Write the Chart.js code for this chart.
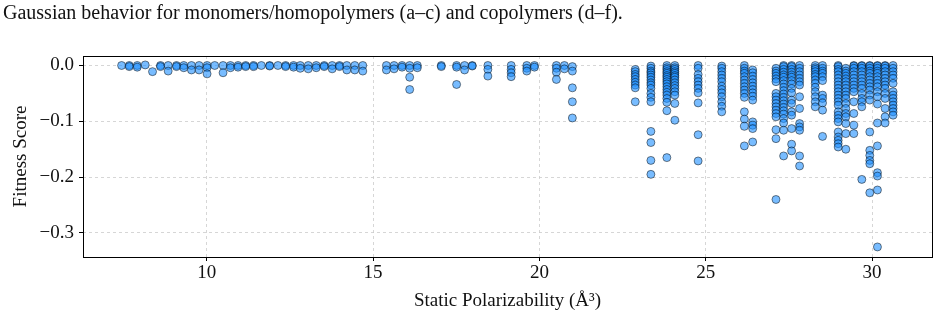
<!DOCTYPE html>
<html>
<head>
<meta charset="utf-8">
<script src="https://cdn.jsdelivr.net/npm/chart.js@4.4.0/dist/chart.umd.min.js"></script>
<style>
  html, body { margin: 0; padding: 0; background: #fff; }
  #wrap { position: relative; width: 940px; height: 318px; }
  #caption {
    position: absolute; left: 3px; top: 1px;
    font-family: "Liberation Serif", serif; font-size: 20px; color: #111;
    white-space: nowrap;
  }
  canvas { position: absolute; left: 0; top: 0; }
</style>
</head>
<body>
<div id="wrap">
  <canvas id="fitChart" width="940" height="318"></canvas>
  <div id="caption">Gaussian behavior for monomers/homopolymers (a–c) and copolymers (d–f).</div>
</div>
<script>
// ── Data: one entry per polarizability column, y values listed per column ──
const monoX = [7.44, 7.67, 7.91, 8.15, 8.37, 8.61, 8.84, 9.09, 9.31, 9.54, 9.77, 10.01, 10.24, 10.49, 10.71, 10.94,
  11.17, 11.41, 11.64, 11.89, 12.14, 12.37, 12.61, 12.81, 13.05, 13.29, 13.53, 13.77, 13.99, 14.21, 14.45, 14.69];
const monoY = [[0], [0, -0.002], [0, -0.003], [0.001], [-0.011], [0, -0.002], [0, -0.010], [0, -0.002], [0, -0.004],
  [0, -0.008], [0, -0.008], [0, -0.004, -0.015], [0], [0, -0.013], [0, -0.004], [0, -0.003], [0, -0.002], [0, -0.002],
  [0], [0, -0.001], [0], [0, -0.002], [0, -0.003], [0, -0.005], [0, -0.006], [0, -0.004], [0, -0.002], [0, -0.006],
  [0, -0.002], [0, -0.008], [0, -0.008], [0, -0.010]];

const midX = [15.40, 15.63, 15.87, 16.10, 16.33, 17.05, 17.51, 17.75, 17.98, 18.45, 19.15, 19.62, 19.85, 20.51, 20.75, 20.99];
const midY = [[0, -0.008], [0, -0.006], [0, -0.003], [0, -0.005, -0.021, -0.043], [0, -0.004], [0, -0.002],
  [0, -0.003, -0.034], [0, -0.008], [0, -0.001], [0, -0.007, -0.019], [0, -0.007, -0.013, -0.020], [0, -0.005, -0.010],
  [0, -0.003], [0, -0.005, -0.012, -0.025], [0, -0.006], [-0.002, -0.010, -0.040, -0.065, -0.094]];

const coX = [22.88, 23.35, 23.83, 24.07, 24.77, 25.48, 26.16, 26.41, 27.11, 27.34, 27.58, 27.82, 28.29, 28.51,
  28.98, 29.21, 29.45, 29.69, 29.93, 30.16, 30.39, 30.63];
const coY = [
  [-0.007, -0.011, -0.016, -0.020, -0.025, -0.030, -0.035, -0.040, -0.065],
  [-0.001, -0.005, -0.010, -0.013, -0.017, -0.021, -0.026, -0.031, -0.035, -0.041, -0.050, -0.057, -0.065, -0.118, -0.138, -0.170, -0.195],
  [0, -0.004, -0.007, -0.011, -0.014, -0.018, -0.021, -0.025, -0.029, -0.033, -0.038, -0.043, -0.048, -0.053, -0.059, -0.066, -0.081, -0.165],
  [0, -0.004, -0.007, -0.011, -0.014, -0.018, -0.021, -0.026, -0.031, -0.036, -0.041, -0.047, -0.053, -0.068, -0.098],
  [0, -0.005, -0.016, -0.023, -0.029, -0.035, -0.041, -0.049, -0.067, -0.124, -0.171],
  [-0.001, -0.005, -0.011, -0.017, -0.023, -0.029, -0.037, -0.043, -0.049, -0.056, -0.065, -0.073, -0.083],
  [0, -0.005, -0.010, -0.014, -0.020, -0.026, -0.032, -0.038, -0.044, -0.050, -0.057, -0.083, -0.096, -0.109, -0.144],
  [-0.008, -0.013, -0.019, -0.025, -0.031, -0.037, -0.043, -0.049, -0.055, -0.062, -0.101, -0.107, -0.113, -0.137],
  [-0.005, -0.010, -0.014, -0.019, -0.024, -0.029, -0.050, -0.056, -0.062, -0.068, -0.074, -0.080, -0.086, -0.092, -0.115, -0.131, -0.240],
  [0, -0.002, -0.007, -0.012, -0.017, -0.021, -0.027, -0.033, -0.039, -0.045, -0.051, -0.057, -0.063, -0.069, -0.075, -0.081, -0.087, -0.095, -0.103, -0.116, -0.162],
  [0, -0.002, -0.007, -0.012, -0.017, -0.021, -0.027, -0.033, -0.041, -0.049, -0.062, -0.068, -0.083, -0.089, -0.113, -0.141, -0.153],
  [0, -0.005, -0.011, -0.017, -0.023, -0.029, -0.035, -0.056, -0.077, -0.104, -0.110, -0.116, -0.162, -0.180],
  [0, -0.004, -0.007, -0.011, -0.016, -0.020, -0.026, -0.032, -0.039, -0.047, -0.056, -0.065, -0.074],
  [0, -0.005, -0.010, -0.014, -0.020, -0.027, -0.053, -0.059, -0.067, -0.080, -0.127],
  [0, -0.002, -0.007, -0.011, -0.017, -0.023, -0.029, -0.035, -0.041, -0.047, -0.053, -0.059, -0.065, -0.071, -0.083, -0.089, -0.095, -0.101, -0.119, -0.128, -0.134, -0.140, -0.146],
  [-0.005, -0.010, -0.014, -0.019, -0.024, -0.029, -0.035, -0.041, -0.047, -0.053, -0.059, -0.068, -0.077, -0.086, -0.092, -0.104, -0.122, -0.150],
  [0, -0.001, -0.005, -0.011, -0.017, -0.023, -0.029, -0.035, -0.041, -0.047, -0.065, -0.086, -0.107, -0.122],
  [0, -0.001, -0.005, -0.011, -0.017, -0.023, -0.029, -0.035, -0.041, -0.050, -0.059, -0.065, -0.074, -0.204],
  [0, -0.001, -0.005, -0.010, -0.014, -0.020, -0.026, -0.032, -0.038, -0.044, -0.053, -0.062, -0.119, -0.152, -0.161, -0.170, -0.176, -0.228],
  [0, -0.001, -0.005, -0.010, -0.014, -0.020, -0.026, -0.032, -0.038, -0.047, -0.056, -0.069, -0.103, -0.144, -0.192, -0.198, -0.223, -0.325],
  [0, -0.001, -0.005, -0.011, -0.017, -0.023, -0.029, -0.035, -0.041, -0.050, -0.059, -0.077, -0.092, -0.103],
  [0, -0.005, -0.011, -0.017, -0.023, -0.032, -0.047, -0.053, -0.059, -0.065, -0.071, -0.077, -0.083, -0.089]
];

const xTicks = [10, 15, 20, 25, 30];
const yTicks = [0, -0.1, -0.2, -0.3];

const SERIF = "'Liberation Serif', 'DejaVu Serif', serif";

function toPoints(xs, ys) {
  const pts = [];
  xs.forEach((x, i) => ys[i].forEach(y => pts.push({ x, y })));
  return pts;
}

const points = [
  ...toPoints(monoX, monoY),
  ...toPoints(midX, midY),
  ...toPoints(coX, coY),
];

// frame around the plot area, like matplotlib spines
const frame = {
  id: "frame",
  afterDraw(chart) {
    const { ctx, chartArea: a } = chart;
    ctx.save();
    ctx.strokeStyle = "#000";
    ctx.lineWidth = 1;
    ctx.strokeRect(a.left + 0.5, a.top + 0.5, a.right - a.left, a.bottom - a.top);
    ctx.restore();
  }
};

const grid = {
  color: "#cccccc",
  lineWidth: 0.8,
  tickColor: "#000",
  tickLength: 4,
  tickBorderDash: [],
  tickWidth: 1,
};
// in v4 the dash of the grid lines lives on the border options
const border = { display: false, dash: [3, 3] };

new Chart(document.getElementById("fitChart"), {
  type: "scatter",
  data: {
    datasets: [{
      data: points,
      backgroundColor: "rgba(30,144,255,0.6)",
      borderColor: "rgba(0,0,0,0.6)",
      borderWidth: 0.8,
      pointRadius: 4,
    }]
  },
  options: {
    responsive: false,
    animation: false,
    layout: { padding: { top: 56, right: 8, left: 0, bottom: 0 } },
    plugins: { legend: { display: false }, tooltip: { enabled: false } },
    scales: {
      x: {
        type: "linear",
        min: 6.28, max: 31.8,
        afterBuildTicks: s => { s.ticks = xTicks.map(v => ({ value: v })); },
        afterFit: s => { s.height = 61; },
        grid,
        border,
        ticks: { color: "#111", padding: 1, font: { family: SERIF, size: 19 } },
        title: {
          display: true, text: "Static Polarizability (Å³)", color: "#111",
          font: { family: SERIF, size: 19 }, padding: { top: 0, bottom: 6 }
        }
      },
      y: {
        type: "linear",
        min: -0.343, max: 0.017,
        afterBuildTicks: s => { s.ticks = yTicks.map(v => ({ value: v })); },
        afterFit: s => { s.width = 83; },
        grid,
        border,
        ticks: {
          color: "#111", padding: 5, font: { family: SERIF, size: 19 },
          callback: v => (v < 0 ? "\u2212" : "") + Math.abs(v).toFixed(1)
        },
        title: {
          display: true, text: "Fitness Score", color: "#111",
          font: { family: SERIF, size: 19 }, padding: { top: 10, bottom: 0 }
        }
      }
    }
  },
  plugins: [frame]
});
</script>
</body>
</html>
